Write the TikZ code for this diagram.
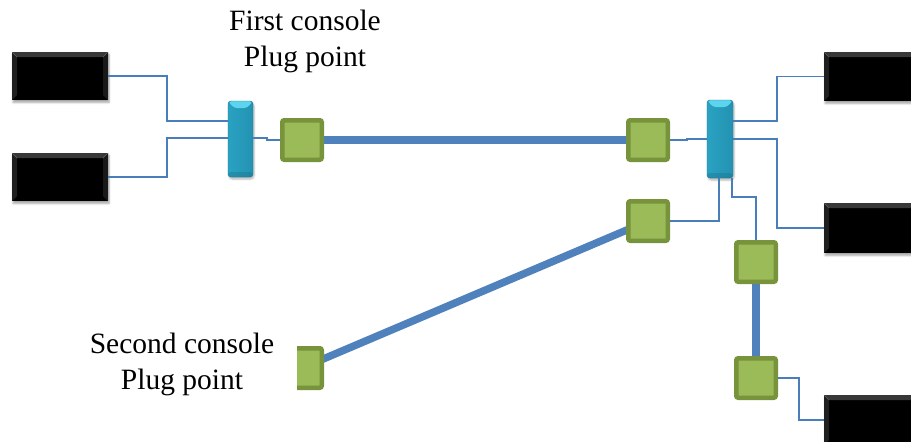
\documentclass[tikz,border=0pt]{standalone}
\usepackage{fontspec}
\setmainfont{Liberation Serif}
\usetikzlibrary{shadows.blur,backgrounds}
\definecolor{wireblue}{HTML}{4A7EBB}
\definecolor{linkblue}{HTML}{4F81BD}
\definecolor{plugedge}{HTML}{77933C}
\definecolor{plugfill}{HTML}{9BBB59}
\definecolor{hubmid}{HTML}{38BAD9}
\definecolor{hubleft}{HTML}{2AA2C2}
\definecolor{hubright}{HTML}{2392B2}
\definecolor{hubtop}{HTML}{5CD4EE}
\tikzset{
  wire/.style={draw=wireblue, line width=1.3pt},
  link/.style={draw=linkblue, line width=7.5pt},
  plug/.style={draw=plugedge, line width=4.5pt, fill=plugfill,
    minimum size=39.5pt, rounded corners=2pt, inner sep=0pt},
  console/.style={fill=black, inner sep=0pt, minimum width=#1, minimum height=48pt,
    blur shadow={shadow xshift=1pt, shadow yshift=-2.5pt, shadow blur steps=6, shadow opacity=35},
    path picture={
      \fill[black!78] (path picture bounding box.north west) -- (path picture bounding box.north east)
        -- ([shift={(-5pt,-5pt)}]path picture bounding box.north east)
        -- ([shift={(5pt,-5pt)}]path picture bounding box.north west) -- cycle;
      \fill[black!88] (path picture bounding box.north west) -- (path picture bounding box.south west)
        -- ([shift={(5pt,5pt)}]path picture bounding box.south west)
        -- ([shift={(5pt,-5pt)}]path picture bounding box.north west) -- cycle;
      \fill[black!90] (path picture bounding box.north east) -- (path picture bounding box.south east)
        -- ([shift={(-5pt,5pt)}]path picture bounding box.south east)
        -- ([shift={(-5pt,-5pt)}]path picture bounding box.north east) -- cycle;
      \draw[black!60, line width=0.5pt] (path picture bounding box.north west)
        -- ([shift={(5pt,-5pt)}]path picture bounding box.north west)
        (path picture bounding box.north east)
        -- ([shift={(-5pt,-5pt)}]path picture bounding box.north east);
    }},
  console/.default=96pt,
  hub/.style={minimum width=25pt, minimum height=76pt, inner sep=0pt, rounded corners=3pt,
    left color=hubleft, middle color=hubmid, right color=hubright,
    draw=hubright!80!black, line width=0.4pt,
    blur shadow={shadow xshift=1pt, shadow yshift=-2pt, shadow blur steps=5, shadow opacity=30},
    path picture={
      \fill[hubtop] (path picture bounding box.north west) -- (path picture bounding box.north east)
        -- ([shift={(-6pt,-7pt)}]path picture bounding box.north east)
        -- ([shift={(6pt,-7pt)}]path picture bounding box.north west) -- cycle;
      \fill[hubright!70!black, opacity=0.3] ([yshift=5pt]path picture bounding box.south west)
        rectangle (path picture bounding box.south east);
    }},
  caption/.style={align=center, font=\fontsize{29.5}{36}\selectfont}
}
\begin{document}
\begin{tikzpicture}[x=1pt, y=-1pt]
  \useasboundingbox (0,0) rectangle (911,442);
  \clip (0,0) rectangle (911,442);

  % consoles
  \node[console] (lt) at (60,76) {};
  \node[console] (lb) at (60,177) {};
  \node[console=106pt, minimum height=49pt] (rt) at (877,76.5) {};
  \node[console=106pt, minimum height=50pt] (rm) at (877,228) {};
  \node[console=106pt, minimum height=50pt] (rb) at (877,420) {};

  % hubs
  \node[hub] (cL) at (240.5,139) {};
  \node[hub, minimum width=26pt, minimum height=78pt] (cR) at (720,139) {};

  % plug points
  \node[plug] (g1) at (302,140) {};
  \node[plug] (g2) at (648,140) {};
  \node[plug] (g3) at (648,221) {};
  \node[plug] (g4) at (756,262) {};
  \node[plug] (g5) at (756,378) {};
  \begin{scope}
    \clip (297,330) rectangle (340,400);
    \node[plug] (g0) at (302,368) {};
  \end{scope}

  % trunk links between plug points
  \begin{scope}[on background layer]
    \draw[link] (g1.center) -- (g2.center);
    \draw[link] (g0.center) -- (g3.center);
    \draw[link] (g4.center) -- (g5.center);
  \end{scope}

  % thin wiring
  \draw[wire] (lt.east) -- (167,76) |- (cL.west |- 0,121);
  \draw[wire] (lb.east) -- (167,177) |- (cL.west |- 0,138);
  \draw[wire] (cL.east |- 0,138) -- (267,138) -- (267,140) -- (g1.west);
  \draw[wire] (g2.east) -- (687,140) -- (687,139) -- (cR.west |- 0,139);
  \draw[wire] (cR.east |- 0,121) -- (777,121) |- (rt.west);
  \draw[wire] (cR.east |- 0,139) -- (777,139) |- (rm.west);
  \draw[wire] (cR.south -| 719,0) |- (g3.east);
  \draw[wire] (cR.south -| 732,0) -- (732,197) -| (g4.north);
  \draw[wire] (g5.east) -- (799,378) |- (rb.west);

  % captions
  \node[caption] (cap1) at (305,41) {First console\\Plug point};
  \node[caption] (cap2) at (182,364) {Second console\\Plug point};
\end{tikzpicture}
\end{document}
